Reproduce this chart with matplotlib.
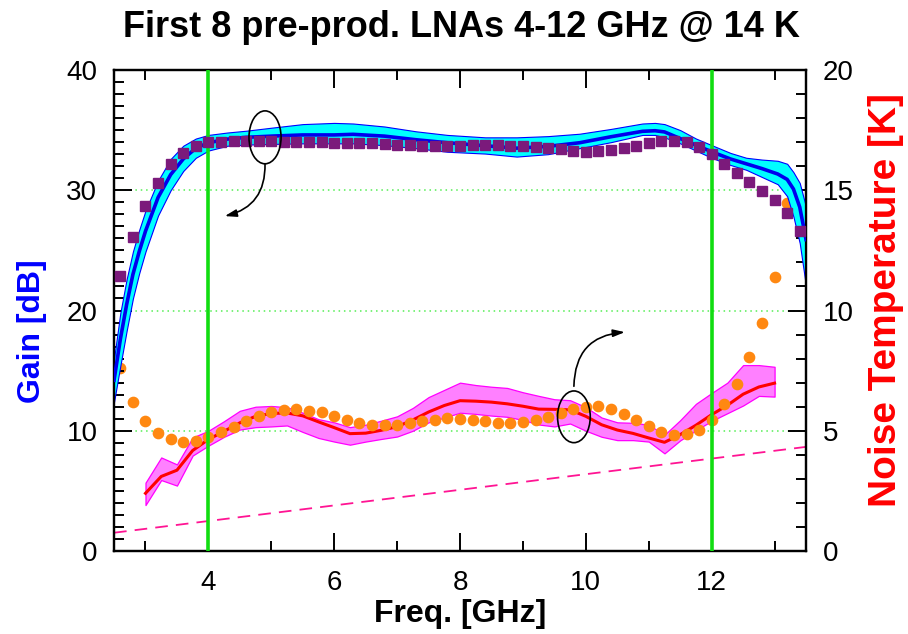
import numpy as np
import matplotlib
matplotlib.use("Agg")
import matplotlib.pyplot as plt
from matplotlib.patches import Ellipse
from matplotlib.ticker import MultipleLocator

plt.rcParams['font.family'] = ['Liberation Sans', 'DejaVu Sans']

# ---- gain statistics over the 8 amplifiers (dB) ----
gain_freq = [2.5, 2.6, 2.7, 2.8, 2.9, 3.0, 3.2, 3.4, 3.6, 3.8, 4.0, 4.3, 4.6, 5.0, 5.5,
             6.0, 6.3, 6.8, 7.3, 7.8, 8.4, 8.9, 9.4, 9.9, 10.4, 10.9, 11.1, 11.25, 11.5,
             11.75, 12.0, 12.3, 12.55, 12.8, 13.05, 13.2, 13.3, 13.4, 13.5]
gain_mean = [14.2, 17.6, 20.5, 23.0, 24.9, 26.6, 29.4, 31.3, 32.6, 33.5, 33.95, 34.25, 34.4,
             34.5, 34.6, 34.6, 34.65, 34.5, 34.2, 33.95, 33.7, 33.5, 33.65, 33.95, 34.45,
             34.9, 34.95, 34.85, 34.3, 33.75, 33.2, 32.6, 32.2, 31.8, 31.35, 30.9, 30.1,
             28.6, 25.9]
gain_upper = [16.0, 19.8, 22.6, 24.9, 26.7, 28.3, 30.8, 32.6, 33.7, 34.3, 34.6, 34.8, 34.95,
              35.2, 35.5, 35.6, 35.55, 35.3, 34.9, 34.6, 34.4, 34.4, 34.5, 34.7, 35.1,
              35.55, 35.6, 35.5, 35.0, 34.3, 33.75, 33.1, 32.7, 32.55, 32.45, 32.2, 31.5,
              30.6, 28.6]
gain_lower = [12.4, 15.4, 18.3, 21.0, 23.1, 24.9, 27.9, 30.0, 31.6, 32.7, 33.3, 33.7, 33.8,
              33.85, 33.9, 33.9, 33.9, 33.75, 33.5, 33.2, 33.05, 32.8, 33.0, 33.5, 34.0,
              34.6, 34.6, 34.4, 33.9, 33.3, 32.7, 32.1, 31.7, 31.1, 30.5, 29.5, 27.8,
              25.6, 22.0]

# ---- single-unit gain (dB) ----
unit_freq = [round(2.6 + 0.2 * i, 1) for i in range(55)]
unit_gain = [22.9, 26.1, 28.7, 30.6, 32.2, 33.1, 33.7, 34.0, 34.05, 34.1, 34.1, 34.1, 34.1,
             34.05, 34.05, 34.05, 34.0, 33.95, 33.9, 33.95, 33.9, 33.85, 33.8, 33.75, 33.7,
             33.65, 33.65, 33.7, 33.75, 33.8, 33.8, 33.7, 33.65, 33.6, 33.5, 33.4, 33.3,
             33.2, 33.3, 33.35, 33.5, 33.7, 33.9, 34.1, 34.1, 34.0, 33.6, 33.0, 32.2,
             31.45, 30.7, 29.9, 29.2, 28.1, 26.6]

# ---- noise temperature statistics over the 8 amplifiers (K) ----
noise_freq = [3.0, 3.25, 3.5, 3.75, 4.0, 4.25, 4.5, 4.75, 5.0, 5.25, 5.5, 5.75, 6.0, 6.25,
              6.5, 6.75, 7.0, 7.25, 7.5, 7.75, 8.0, 8.25, 8.5, 8.75, 9.0, 9.25, 9.5, 9.75,
              10.0, 10.25, 10.5, 10.75, 11.0, 11.25, 11.5, 11.75, 12.0, 12.25, 12.5, 12.75,
              13.0]
noise_mean = [2.40, 3.10, 3.36, 4.18, 4.64, 4.98, 5.33, 5.60, 5.72, 5.74, 5.62, 5.37, 5.13,
              4.88, 4.90, 5.02, 5.17, 5.45, 5.78, 6.05, 6.25, 6.23, 6.19, 6.12, 6.02, 5.90,
              5.89, 5.87, 5.60, 5.25, 5.03, 4.89, 4.70, 4.52, 4.84, 5.23, 5.67, 6.06, 6.52,
              6.82, 6.98]
noise_upper = [2.84, 3.89, 3.60, 4.72, 5.00, 5.40, 5.83, 6.00, 6.03, 5.98, 5.75, 5.48, 5.35,
               5.15, 5.25, 5.42, 5.60, 5.95, 6.40, 6.70, 7.00, 6.90, 6.83, 6.78, 6.60, 6.45,
               6.31, 6.27, 5.98, 5.55, 5.35, 5.33, 5.25, 4.83, 5.44, 6.12, 6.57, 7.00, 7.73,
               7.73, 7.66]
noise_lower = [1.91, 2.95, 2.72, 3.97, 4.38, 4.75, 5.05, 5.15, 5.18, 5.22, 4.95, 4.70, 4.55,
               4.42, 4.55, 4.66, 4.76, 5.00, 5.35, 5.55, 5.75, 5.70, 5.63, 5.58, 5.45, 5.26,
               5.18, 5.30, 5.00, 4.75, 4.61, 4.61, 4.55, 4.06, 4.60, 5.02, 5.41, 5.73, 6.05,
               6.45, 6.42]

# ---- single-unit noise temperature (K) ----
unit_nfreq = [round(2.6 + 0.2 * i, 1) for i in range(54)]
unit_noise = [7.62, 6.19, 5.39, 4.90, 4.64, 4.54, 4.58, 4.75, 4.95, 5.17, 5.42, 5.61, 5.76,
              5.86, 5.91, 5.83, 5.76, 5.60, 5.44, 5.33, 5.22, 5.22, 5.24, 5.33, 5.40, 5.46,
              5.51, 5.49, 5.44, 5.39, 5.33, 5.33, 5.38, 5.44, 5.56, 5.75, 5.90, 6.00, 6.02,
              5.89, 5.69, 5.44, 5.21, 4.96, 4.84, 4.85, 5.03, 5.44, 6.13, 6.94, 8.08, 9.49,
              11.38, 14.45]

# ---- reference line (K) ----
ref_freq = [2.5, 13.5]
ref_noise = [0.76, 4.33]

band_edges = [4, 12]
x_ticks = [4, 6, 8, 10, 12]

fig = plt.figure(figsize=(9.08, 6.34), dpi=100)
ax = fig.add_axes([0.1256, 0.1309, 0.7621, 0.7587])
ax2 = ax.twinx()
ax.set_zorder(ax2.get_zorder() + 1)
ax.patch.set_visible(False)

# noise (right axis)
ax2.grid(True, which='major', color='#55ee55', linestyle=(0, (1, 2.5)), linewidth=1.1, zorder=0)
ax2.plot(ref_freq, ref_noise, color='#ff1493', linestyle=(0, (7, 4.5)), linewidth=1.3, zorder=1)
ax2.fill_between(noise_freq, noise_lower, noise_upper, facecolor='#ff80ff',
                 edgecolor='#ff00ff', linewidth=0.9, zorder=2)
ax2.plot(noise_freq, noise_mean, color='#ff0000', linewidth=2.2, zorder=3)
ax2.plot(unit_nfreq, unit_noise, linestyle='none', marker='o', markersize=7.4,
         markerfacecolor='#ff8811', markeredgecolor='#ff8811', zorder=4)

# gain (left axis)
ax.fill_between(gain_freq, gain_lower, gain_upper, facecolor='#00ffff',
                edgecolor='#0000ff', linewidth=0.8, zorder=2)
ax.plot(gain_freq, gain_mean, color='#0000ee', linewidth=2.6, zorder=3)
for f in band_edges:
    ax.axvline(f, color='#11dd11', linewidth=2.6, zorder=3.5)
ax.plot(unit_freq, unit_gain, linestyle='none', marker='s', markersize=7.2,
        markerfacecolor='#7b1a7b', markeredgecolor='#7b1a7b', zorder=4)

# call-outs pointing each group to its axis
ax.add_patch(Ellipse((4.9, 34.4), 0.51, 4.4, fill=False, edgecolor='black', linewidth=1.2, zorder=5))
ax.annotate('', xy=(4.26, 27.85), xytext=(4.9, 32.2),
            arrowprops=dict(arrowstyle='-|>,head_length=0.7,head_width=0.22',
                            connectionstyle='arc3,rad=-0.4', color='black', lw=1.2,
                            shrinkA=0, shrinkB=0), zorder=5)
ax.add_patch(Ellipse((9.81, 11.16), 0.52, 4.3, fill=False, edgecolor='black', linewidth=1.2, zorder=5))
ax.annotate('', xy=(10.62, 18.2), xytext=(9.81, 13.7),
            arrowprops=dict(arrowstyle='-|>,head_length=0.7,head_width=0.22',
                            connectionstyle='arc3,rad=-0.45', color='black', lw=1.2,
                            shrinkA=0, shrinkB=0), zorder=5)

ax.set_xlim(2.5, 13.5)
ax.set_ylim(0, 40)
ax2.set_ylim(0, 20)

ax.set_xticks(x_ticks)
ax.xaxis.set_minor_locator(MultipleLocator(1))
ax.yaxis.set_major_locator(MultipleLocator(10))
ax.yaxis.set_minor_locator(MultipleLocator(1))
ax2.yaxis.set_major_locator(MultipleLocator(5))
ax2.yaxis.set_minor_locator(MultipleLocator(1))

ax.tick_params(axis='both', which='both', direction='in', width=1.4, labelsize=20)
ax.tick_params(axis='x', which='both', top=True, bottom=True, pad=14)
ax.tick_params(axis='y', which='both', left=True, right=False, pad=12)
ax.tick_params(which='major', length=13)
ax.tick_params(which='minor', length=7)
ax2.tick_params(axis='y', which='both', direction='in', width=1.4, labelsize=20, pad=12)
ax2.tick_params(which='major', length=13)
ax2.tick_params(which='minor', length=7)

for a in (ax, ax2):
    for s in a.spines.values():
        s.set_linewidth(1.6)

ax.set_xlabel('Freq. [GHz]', fontsize=23, fontweight='bold', labelpad=2)
ax.set_ylabel('Gain [dB]', fontsize=23, fontweight='bold', color='#0000ff')
ax.yaxis.set_label_coords(-0.097, 0.457)
ax2.set_ylabel('Noise Temperature [K]', fontsize=28, fontweight='bold', color='#ff0000')
ax2.yaxis.set_label_coords(1.09, 0.522)
fig.suptitle('First 8 pre-prod. LNAs 4-12 GHz @ 14 K', fontsize=26, fontweight='bold',
             x=0.508, y=0.985)

fig.savefig('out.png', dpi=100)
